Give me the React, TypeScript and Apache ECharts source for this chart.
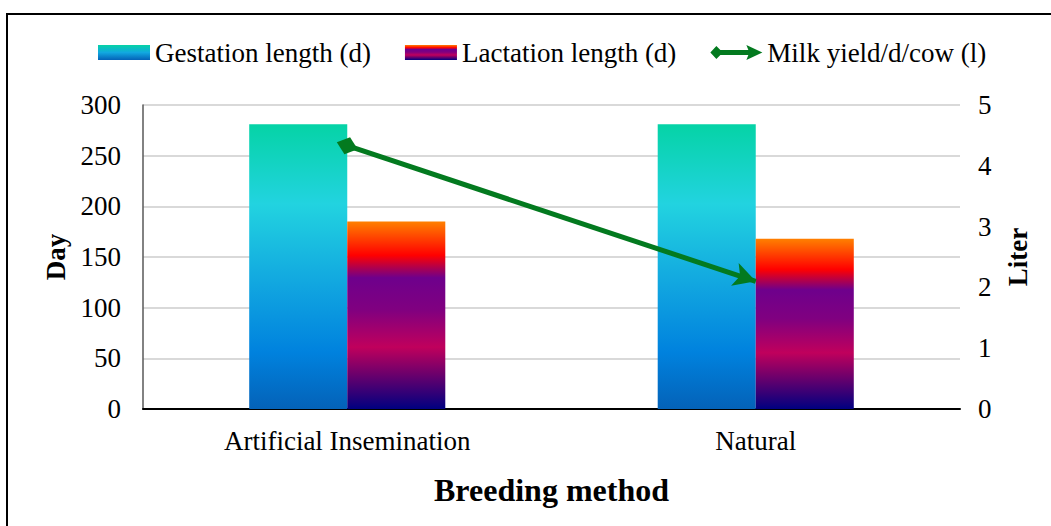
import React, { useEffect, useRef } from "react";
import * as echarts from "echarts";

const categories = ["Artificial Insemination", "Natural"];
const gestationLength = [281, 281];
const lactationLength = [185, 168];
const milkYield = [4.33, 2.1];
const dayTicks = [0, 50, 100, 150, 200, 250, 300];
const literTicks = [0, 1, 2, 3, 4, 5];

const FONT = "Liberation Serif";

export default function App() {
  const ref = useRef<HTMLDivElement>(null);
  useEffect(() => {
    if (!ref.current) return;
    const chart = echarts.init(ref.current, null, { renderer: "svg" });
    const gestGrad = new echarts.graphic.LinearGradient(0, 0, 0, 1, [
      { offset: 0, color: "#05D3A6" },
      { offset: 0.28, color: "#22D3E0" },
      { offset: 0.55, color: "#12A8E0" },
      { offset: 0.8, color: "#0082DE" },
      { offset: 1, color: "#0462B8" },
    ]);
    const lactGrad = new echarts.graphic.LinearGradient(0, 0, 0, 1, [
      { offset: 0, color: "#FF8000" },
      { offset: 0.18, color: "#FF0000" },
      { offset: 0.3, color: "#6E008C" },
      { offset: 0.47, color: "#800080" },
      { offset: 0.67, color: "#C0005C" },
      { offset: 1, color: "#000080" },
    ]);
    const legendGestGrad = new echarts.graphic.LinearGradient(0, 0, 0, 1, [
      { offset: 0, color: "#05D3A6" },
      { offset: 0.5, color: "#12A8E0" },
      { offset: 1, color: "#0462B8" },
    ]);
    const green = "#037A1F";
    const milkIcon =
      "path://M0,7.5 L6,1 L10,5 L38,5 L36,0 L52,7.5 L36,15 L38,10 L10,10 L6,14 Z";
    chart.setOption({
      animation: false,
      backgroundColor: "#ffffff",
      graphic: [
        {
          type: "rect",
          shape: { x: 7, y: 14, width: 1200, height: 700 },
          style: { fill: "none", stroke: "#000", lineWidth: 2 },
          silent: true,
        },
      ],
      legend: {
        top: 34,
        left: 93,
        itemWidth: 52,
        itemHeight: 15,
        itemGap: 34,
        textStyle: { fontFamily: FONT, fontSize: 27, color: "#000" },
        data: [
          { name: "Gestation length (d)", icon: "rect", itemStyle: { color: legendGestGrad } },
          { name: "Lactation length (d)", icon: "rect" },
          { name: "Milk yield/d/cow (l)", icon: milkIcon, itemStyle: { color: green } },
        ],
      },
      grid: { left: 143, right: 91, top: 105, bottom: 117 },
      xAxis: {
        type: "category",
        data: categories,
        name: "Breeding method",
        nameLocation: "middle",
        nameGap: 65,
        nameTextStyle: { fontFamily: FONT, fontSize: 32, fontWeight: "bold", color: "#000" },
        axisLine: { lineStyle: { color: "#000", width: 2 } },
        axisTick: { show: false },
        axisLabel: { fontFamily: FONT, fontSize: 27, color: "#000", margin: 18 },
      },
      yAxis: [
        {
          type: "value",
          min: dayTicks[0],
          max: dayTicks[dayTicks.length - 1],
          interval: 50,
          name: "Day",
          nameLocation: "middle",
          nameGap: 70,
          nameTextStyle: { fontFamily: FONT, fontSize: 27, fontWeight: "bold", color: "#000" },
          axisLine: { show: true, lineStyle: { color: "#595959", width: 1.5 } },
          axisTick: { show: false },
          axisLabel: { fontFamily: FONT, fontSize: 27, color: "#000", margin: 22 },
          splitLine: { lineStyle: { color: "#D9D9D9", width: 2 } },
        },
        {
          type: "value",
          min: literTicks[0],
          max: literTicks[literTicks.length - 1],
          interval: 1,
          name: "Liter",
          nameLocation: "middle",
          nameGap: 44,
          nameTextStyle: { fontFamily: FONT, fontSize: 27, fontWeight: "bold", color: "#000" },
          axisLine: { show: false },
          axisTick: { show: false },
          axisLabel: { fontFamily: FONT, fontSize: 27, color: "#000", margin: 18 },
          splitLine: { show: false },
        },
      ],
      series: [
        {
          name: "Gestation length (d)",
          type: "bar",
          data: gestationLength,
          barWidth: "24%",
          barGap: "0%",
          itemStyle: { color: gestGrad },
        },
        {
          name: "Lactation length (d)",
          type: "bar",
          data: lactationLength,
          barWidth: "24%",
          barGap: "0%",
          itemStyle: { color: lactGrad },
        },
        {
          name: "Milk yield/d/cow (l)",
          type: "line",
          yAxisIndex: 1,
          data: milkYield,
          showSymbol: false,
          symbol: "none",
          itemStyle: { color: green },
          lineStyle: { color: green, width: 0, opacity: 0 },
          markLine: {
            silent: true,
            symbol: ["diamond", "arrow"],
            symbolSize: [18, 22],
            label: { show: false },
            lineStyle: { color: green, width: 5, type: "solid" },
            data: [
              [
                { coord: [categories[0], milkYield[0]] },
                { coord: [categories[1], milkYield[1]] },
              ],
            ],
          },
        },
      ],
    });
    return () => chart.dispose();
  }, []);
  return (
    <div
      ref={ref}
      style={{ position: "absolute", left: 0, top: 0, width: 1051, height: 526 }}
    />
  );
}
